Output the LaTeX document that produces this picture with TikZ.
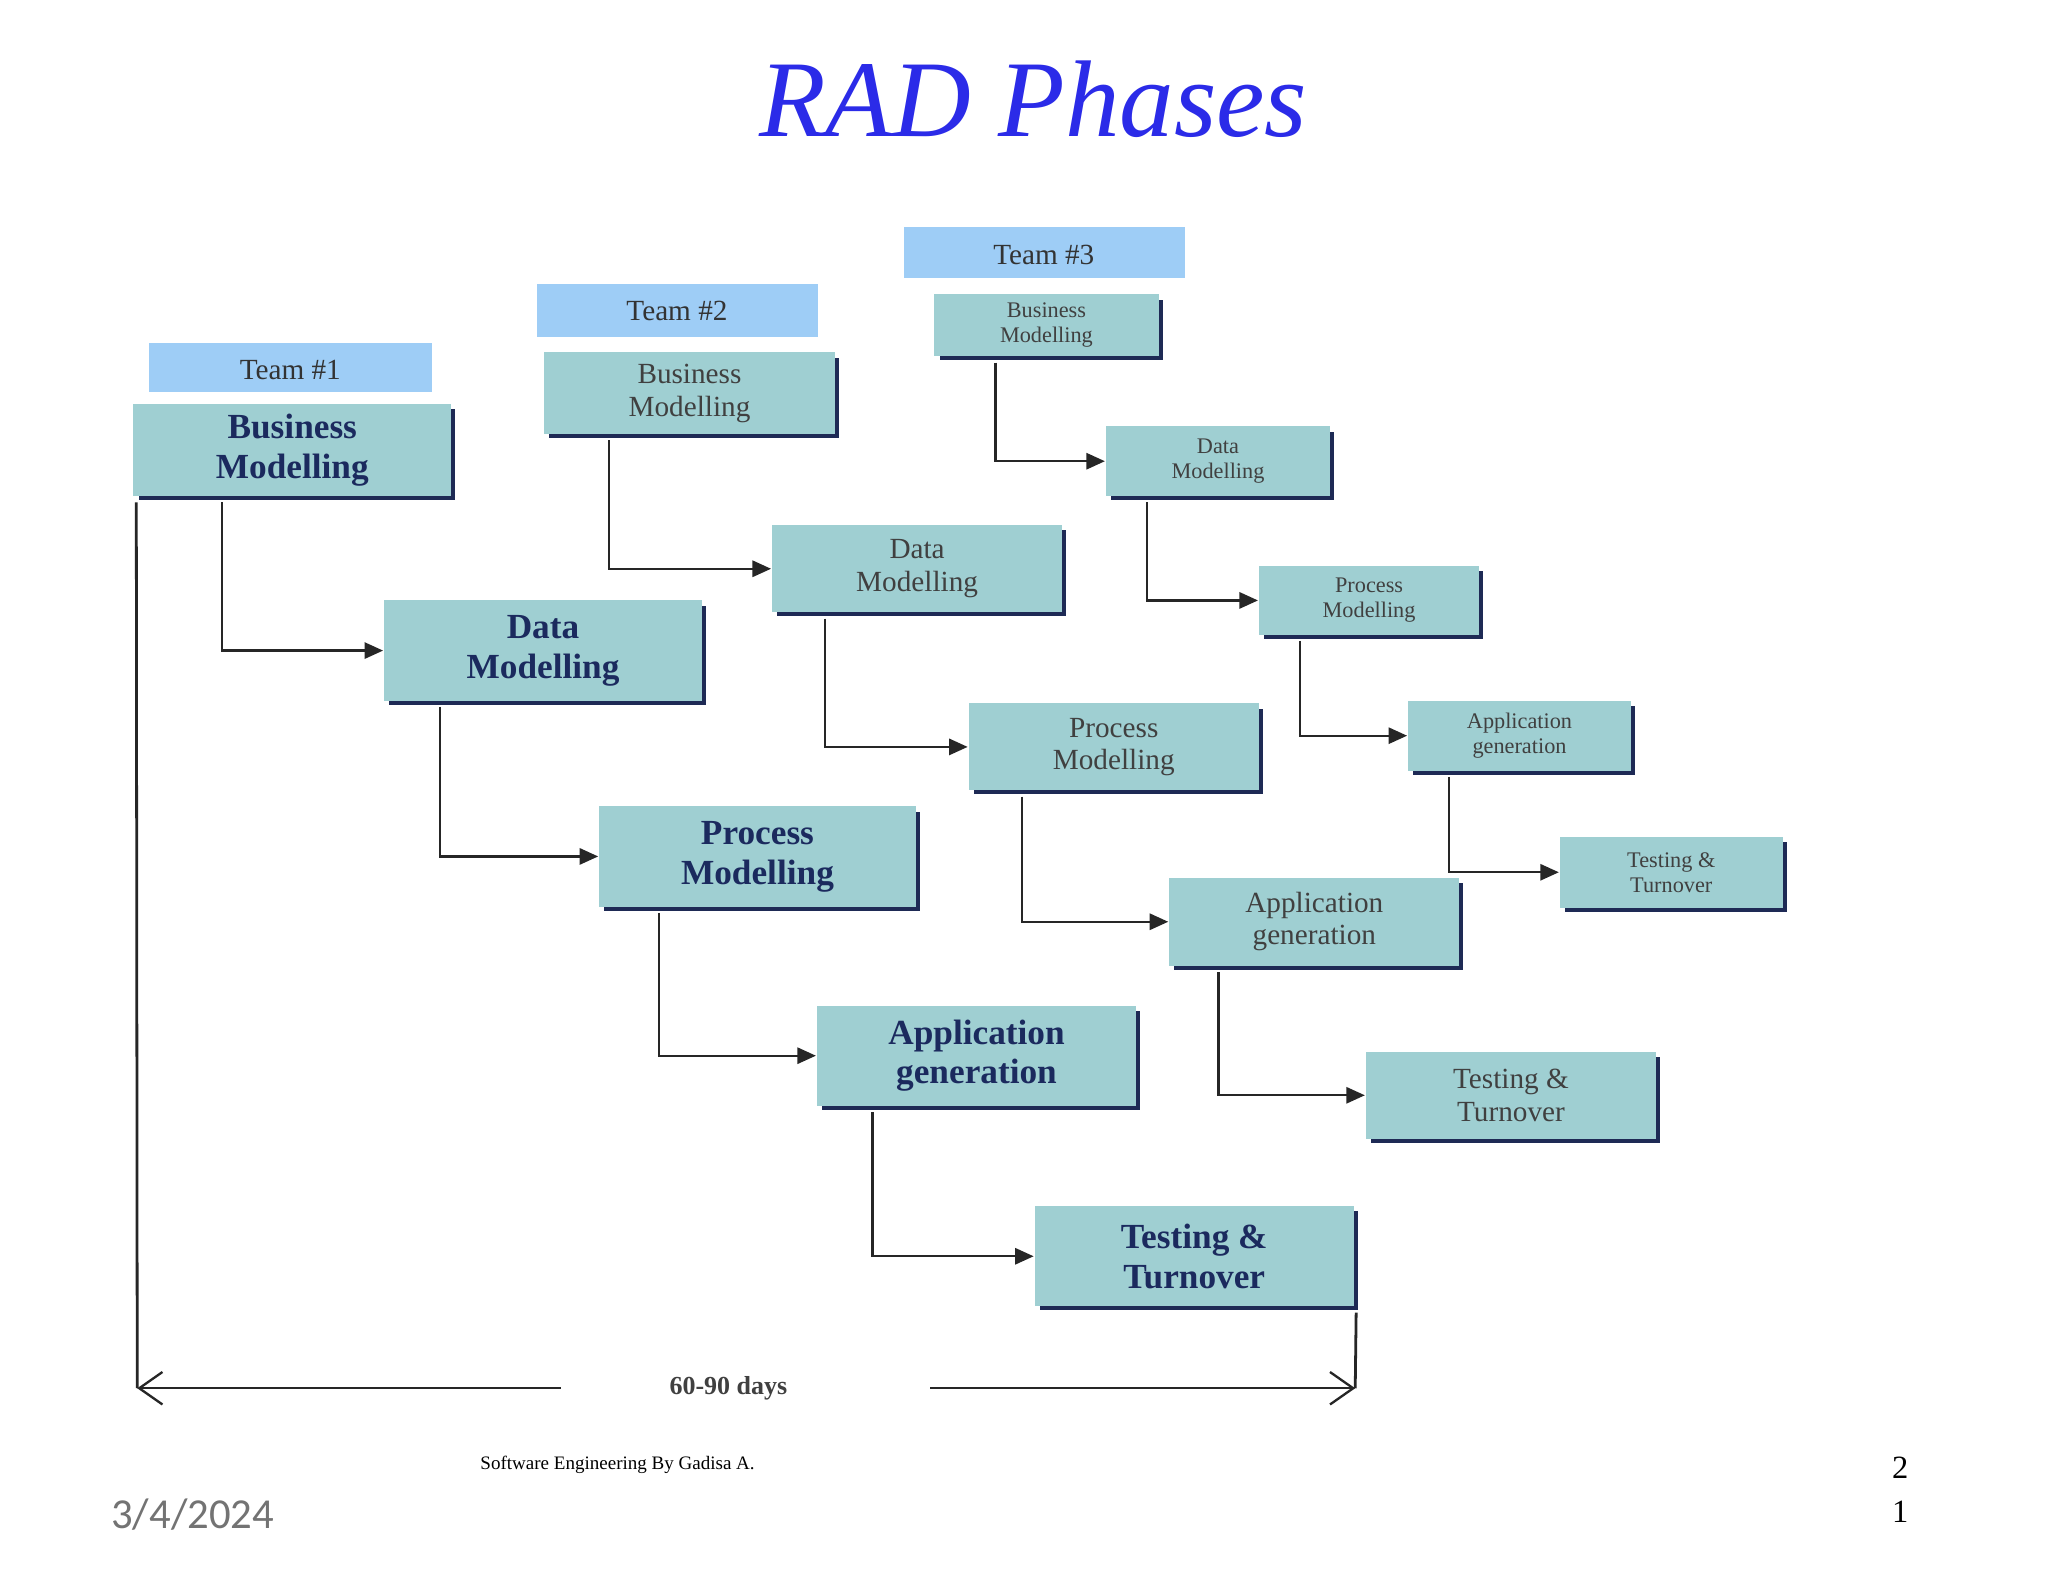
\documentclass[tikz,border=0pt]{standalone}
\usepackage{fontspec}
\setmainfont{Liberation Serif}
\newfontfamily\calib{Carlito}
\usetikzlibrary{arrows.meta}
\definecolor{boxfill}{HTML}{9FCFD2}
\definecolor{teamfill}{HTML}{9ECDF6}
\definecolor{navy}{HTML}{1B2A5E}
\definecolor{shadowc}{HTML}{1E2A55}
\definecolor{titleblue}{HTML}{2B2BE8}
\tikzset{
  x=0.01cm, y=-0.01cm,
  phase/.style={fill=boxfill, draw=none, align=center, inner sep=0pt},
  teamlbl/.style={fill=teamfill, draw=none, align=center, inner sep=0pt, font=\fontsize{6.3}{7}\selectfont, text=black!80},
  bigtxt/.style={font=\bfseries\fontsize{7.6}{8.6}\selectfont, text=navy},
  midtxt/.style={font=\fontsize{6.3}{7}\selectfont, text=black!75},
  smalltxt/.style={font=\fontsize{4.8}{5.4}\selectfont, text=black!75},
  conn/.style={draw=black!85, line width=0.5pt, -{Triangle[length=4pt,width=3.5pt]}},
}
\newcommand{\phasebox}[6]{% name, x1,y1,x2,y2, style+text
  \fill[shadowc] (#2+4,#3+4) rectangle (#4+3,#5+3);
  \fill[boxfill] (#2,#3) rectangle (#4,#5);
  \node (#1) at ({(#2+#4)/2},{(#3+#5)/2}) [minimum width={(#4-#2)*0.01cm}, minimum height={(#5-#3)*0.01cm}, inner sep=0pt] {#6};
}
\begin{document}
\begin{tikzpicture}
\useasboundingbox[fill=white] (0,0) rectangle (1552,1199);
\node[font=\itshape\fontsize{23.5}{26}\selectfont, text=titleblue] (title) at (783,75) {RAD Phases};
% team labels
\fill[teamfill] (113,260) rectangle (327,297); \node[teamlbl] (t1) at (220,280) {Team \#1};
\fill[teamfill] (407,215) rectangle (620,255); \node[teamlbl] (t2) at (513,236) {Team \#2};
\fill[teamfill] (685,172) rectangle (898,211); \node[teamlbl] (t3) at (791,193) {Team \#3};
% team 1
\phasebox{bm1}{101}{306}{342}{376}{\tikz[baseline]\node[bigtxt,align=center,inner sep=0pt]{Business\\Modelling};}
\phasebox{dm1}{291}{455}{532}{531}{\tikz[baseline]\node[bigtxt,align=center,inner sep=0pt]{Data\\Modelling};}
\phasebox{pm1}{454}{611}{694}{687}{\tikz[baseline]\node[bigtxt,align=center,inner sep=0pt]{Process\\Modelling};}
\phasebox{ag1}{619}{762}{861}{838}{\tikz[baseline]\node[bigtxt,align=center,inner sep=0pt]{Application\\generation};}
\phasebox{tt1}{784}{914}{1026}{990}{\tikz[baseline]\node[bigtxt,align=center,inner sep=0pt]{Testing \&\\Turnover};}
% team 2
\phasebox{bm2}{412}{267}{633}{329}{\tikz[baseline]\node[midtxt,align=center,inner sep=0pt]{Business\\Modelling};}
\phasebox{dm2}{585}{398}{805}{464}{\tikz[baseline]\node[midtxt,align=center,inner sep=0pt]{Data\\Modelling};}
\phasebox{pm2}{734}{533}{954}{599}{\tikz[baseline]\node[midtxt,align=center,inner sep=0pt]{Process\\Modelling};}
\phasebox{ag2}{886}{665}{1106}{732}{\tikz[baseline]\node[midtxt,align=center,inner sep=0pt]{Application\\generation};}
\phasebox{tt2}{1035}{797}{1255}{863}{\tikz[baseline]\node[midtxt,align=center,inner sep=0pt]{Testing \&\\Turnover};}
% team 3
\phasebox{bm3}{708}{223}{878}{270}{\tikz[baseline]\node[smalltxt,align=center,inner sep=0pt]{Business\\Modelling};}
\phasebox{dm3}{838}{323}{1008}{376}{\tikz[baseline]\node[smalltxt,align=center,inner sep=0pt]{Data\\Modelling};}
\phasebox{pm3}{954}{429}{1121}{481}{\tikz[baseline]\node[smalltxt,align=center,inner sep=0pt]{Process\\Modelling};}
\phasebox{ag3}{1067}{531}{1236}{584}{\tikz[baseline]\node[smalltxt,align=center,inner sep=0pt]{Application\\generation};}
\phasebox{tt3}{1182}{634}{1351}{688}{\tikz[baseline]\node[smalltxt,align=center,inner sep=0pt]{Testing \&\\Turnover};}
% connectors
\draw[conn] (bm1.south west) ++(68,4) |- (dm1.west);
\draw[conn] (dm1.south west) ++(43,4) |- (pm1.west);
\draw[conn] (pm1.south west) ++(46,4) |- (ag1.west);
\draw[conn] (ag1.south west) ++(43,4) |- (tt1.west);
\draw[conn] (bm2.south west) ++(50,4) |- (dm2.west);
\draw[conn] (dm2.south west) ++(41,4) |- (pm2.west);
\draw[conn] (pm2.south west) ++(41,4) |- (ag2.west);
\draw[conn] (ag2.south west) ++(38,4) |- (tt2.west);
\draw[conn] (bm3.south west) ++(47,4) |- (dm3.west);
\draw[conn] (dm3.south west) ++(32,4) |- (pm3.west);
\draw[conn] (pm3.south west) ++(32,4) |- (ag3.west);
\draw[conn] (ag3.south west) ++(32,4) |- (tt3.west);
% duration
\coordinate (la) at (104,1052);
\coordinate (ra) at (1027,1052);
\draw[black!85, line width=0.6pt] (bm1.south west) ++(3,4) -- (la);
\draw[black!85, line width=0.6pt] (tt1.south east) ++(1,4) -- (ra);
\node[font=\bfseries\fontsize{5.6}{6}\selectfont, text=black!75] (days) at (552,1052) {60-90 days};
\draw[black!85, line width=0.5pt, -{Straight Barb[length=5pt,width=7pt]}] (425,1052) -- (la);
\draw[black!85, line width=0.5pt, -{Straight Barb[length=5pt,width=7pt]}] (705,1052) -- (ra);
% footer
\node[font=\fontsize{4.1}{5}\selectfont] (foot) at (468,1110) {Software Engineering By Gadisa A.};
\node[font=\calib\fontsize{9.2}{10}\selectfont, text=black!55] (date) at (146,1148) {3/4/2024};
\node[font=\fontsize{7}{9.6}\selectfont, align=center] (pg) at (1440,1129) {2\\1};
\end{tikzpicture}
\end{document}
